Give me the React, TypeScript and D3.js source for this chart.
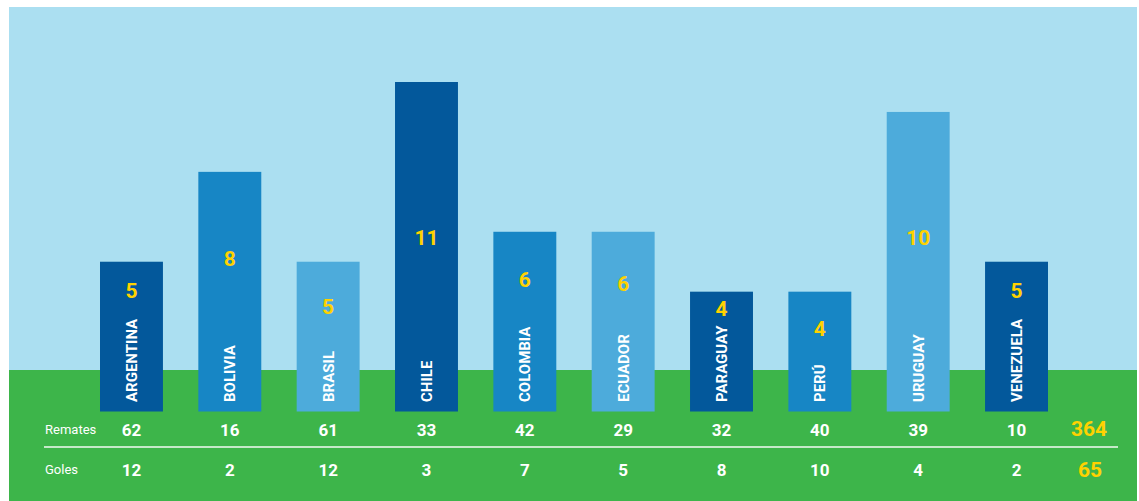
import React from "react";
import * as d3 from "d3";

const countries = ["ARGENTINA", "BOLIVIA", "BRASIL", "CHILE", "COLOMBIA", "ECUADOR", "PARAGUAY", "PERÚ", "URUGUAY", "VENEZUELA"];
const barValues = [5, 8, 5, 11, 6, 6, 4, 4, 10, 5];
const remates = [62, 16, 61, 33, 42, 29, 32, 40, 39, 10];
const goles = [12, 2, 12, 3, 7, 5, 8, 10, 4, 2];
const rowLabels = ["Remates", "Goles"];
const totals = [364, 65];

const W = 1139;
const H = 501;
const SKY = "#ABDFF1";
const GREEN = "#3DB54A";
const YELLOW = "#FFD200";
const barColors = ["#03589B", "#1786C5", "#4DABDB"];
const FONT = "Roboto, 'Open Sans', sans-serif";
const NAME_SIZE = 15;
const NAME_BASE = 402;

function measure(text: string): number {
  try {
    const ctx = document.createElement("canvas").getContext("2d");
    if (ctx) {
      ctx.font = `700 ${NAME_SIZE}px Roboto, sans-serif`;
      return ctx.measureText(text).width;
    }
  } catch (e) {}
  return text.length * NAME_SIZE * 0.6;
}

export default function App() {
  const x = d3.scaleBand<string>().domain(countries).range([100, 1048]).paddingInner(0.36).paddingOuter(0);
  const y = d3.scaleLinear().domain([0, 11]).range([411.5, 82]);
  const bw = x.bandwidth();
  const baseY = y(0);

  return (
    <svg width={W} height={H} style={{ position: "absolute", left: 0, top: 0 }} fontFamily={FONT}>
      <rect x={9} y={7} width={1128} height={H - 7} fill={SKY} />
      <rect x={9} y={370} width={1128} height={H - 370} fill={GREEN} />
      {countries.map((c, i) => {
        const x0 = x(c) as number;
        const top = y(barValues[i]);
        const cx = x0 + bw / 2;
        const nameTop = NAME_BASE - measure(c);
        const labelY = Math.max(237, (top + nameTop) / 2);
        return (
          <g key={c}>
            <rect x={x0} y={top} width={bw} height={baseY - top} fill={barColors[i % 3]} />
            <text x={cx} y={labelY} dy="0.36em" textAnchor="middle" fill={YELLOW} fontSize={21} fontWeight={700}>
              {barValues[i]}
            </text>
            <text
              transform={`translate(${cx + 5.5},${NAME_BASE}) rotate(-90)`}
              textAnchor="start"
              fill="#fff"
              fontSize={NAME_SIZE}
              fontWeight={700}
            >
              {c}
            </text>
            <text x={cx} y={436} textAnchor="middle" fill="#fff" fontSize={17} fontWeight={700}>
              {remates[i]}
            </text>
            <text x={cx} y={476} textAnchor="middle" fill="#fff" fontSize={17} fontWeight={700}>
              {goles[i]}
            </text>
          </g>
        );
      })}
      <text x={45} y={434} fill="#fff" fontSize={13}>{rowLabels[0]}</text>
      <text x={45} y={474} fill="#fff" fontSize={13}>{rowLabels[1]}</text>
      <line x1={44} x2={1118} y1={447} y2={447} stroke="rgba(255,255,255,0.7)" strokeWidth={2} />
      <text x={1089} y={436} textAnchor="middle" fill={YELLOW} fontSize={21} fontWeight={700}>{totals[0]}</text>
      <text x={1090} y={477} textAnchor="middle" fill={YELLOW} fontSize={21} fontWeight={700}>{totals[1]}</text>
    </svg>
  );
}
